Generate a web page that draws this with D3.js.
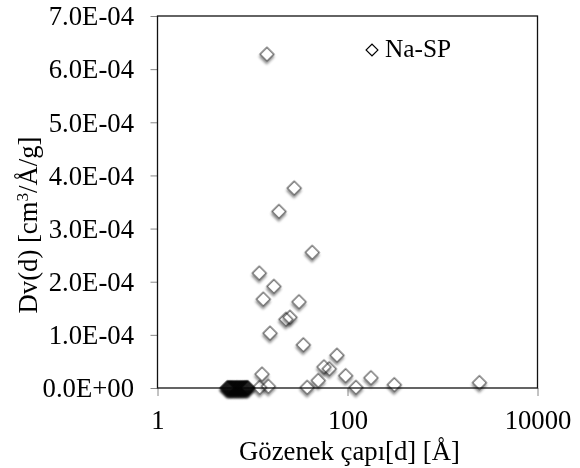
<!DOCTYPE html>
<html>
<head>
<meta charset="utf-8">
<script src="https://cdn.jsdelivr.net/npm/d3@7"></script>
<style>
  html, body { margin: 0; padding: 0; background: #fff; }
  svg { display: block; background: #fff; }
</style>
</head>
<body>
<script>
// ---- data ----
const seriesName = "Na-SP";
const poreDiameter = [
  5.4, 5.48, 5.57, 5.66, 5.74, 5.83, 5.92, 6.02, 6.1, 6.2,
  6.31, 6.4, 6.52, 6.61, 6.73, 6.84, 6.95, 7.05, 7.18, 7.3,
  7.41, 7.53, 7.66, 7.78, 7.9, 8.04, 8.17, 8.3, 8.44, 8.58,
  8.72, 8.86, 8.98,
  11.8, 11.9, 12.6, 13.0, 14.2, 14.7, 15.3, 16.8, 19.0, 22.5,
  24.8, 27.5, 30.9, 34.3, 37.7, 42.6, 49.3, 56.6, 64.3, 77.5,
  95.7, 122.8, 176.7, 311, 2450
];
const dv = [
  0.0e-6, 0.1e-6, 0.0e-6, 0.1e-6, 0.0e-6, 0.1e-6, 0.0e-6, 0.1e-6, 0.0e-6, 0.1e-6,
  0.0e-6, 0.1e-6, 0.0e-6, 0.1e-6, 0.0e-6, 0.1e-6, 0.0e-6, 0.1e-6, 0.0e-6, 0.1e-6,
  0.0e-6, 0.1e-6, 0.0e-6, 0.1e-6, 0.0e-6, 0.1e-6, 0.2e-6, 0.1e-6, 0.2e-6, 0.3e-6,
  0.2e-6, 0.1e-6, 0.2e-6,
  2.16e-4, 0.1e-5, 2.6e-5, 1.67e-4, 6.28e-4, 0.3e-5, 1.03e-4, 1.91e-4, 3.32e-4, 1.29e-4,
  1.33e-4, 3.76e-4, 1.62e-4, 0.81e-4, 0.1e-5, 2.55e-4, 1.4e-5, 3.95e-5, 3.6e-5, 6.15e-5,
  2.3e-5, 0.1e-5, 1.9e-5, 0.6e-5, 1.0e-5
];
const xTickValues = [1, 100, 10000];
const xTickLabels = ["1", "100", "10000"];
const yTickValues = [0, 1e-4, 2e-4, 3e-4, 4e-4, 5e-4, 6e-4, 7e-4];
const yTickLabels = ["0.0E+00", "1.0E-04", "2.0E-04", "3.0E-04", "4.0E-04", "5.0E-04", "6.0E-04", "7.0E-04"];
const xTitle = "Gözenek çapı[d] [Å]";

// ---- layout ----
const W = 580, H = 468;
const plot = { left: 157.5, right: 537.5, top: 16, bottom: 388 };
const FS = 26.7;
const FONT = "Liberation Serif";

const svg = d3.select("body").append("svg").attr("width", W).attr("height", H);

const defs = svg.append("defs");
const f = defs.append("filter").attr("id", "shadow")
  .attr("x", "-50%").attr("y", "-50%").attr("width", "200%").attr("height", "200%");
f.append("feDropShadow").attr("dx", 1.5).attr("dy", 2).attr("stdDeviation", 1.3)
  .attr("flood-color", "#000").attr("flood-opacity", 0.45);

const x = d3.scaleLog().domain([1, 10000]).range([plot.left, plot.right]);
const y = d3.scaleLinear().domain([0, 7e-4]).range([plot.bottom, plot.top]);

// y ticks
const yAxis = d3.axisLeft(y).tickValues(yTickValues).tickSize(7).tickPadding(0)
  .tickFormat((d, i) => yTickLabels[i]);
const gy = svg.append("g").attr("transform", `translate(${plot.left},0)`).call(yAxis);
gy.select(".domain").remove();
gy.selectAll(".tick line").attr("stroke", "#888").attr("stroke-width", 1);
gy.selectAll(".tick text").attr("x", 134 - plot.left).attr("dy", "0.33em").attr("fill", "#000")
  .style("font-family", FONT).style("font-size", FS + "px");

// x ticks
const xAxis = d3.axisBottom(x).tickValues(xTickValues).tickSize(8).tickPadding(0)
  .tickFormat((d, i) => xTickLabels[i]);
const gx = svg.append("g").attr("transform", `translate(0,${plot.bottom})`).call(xAxis);
gx.select(".domain").remove();
gx.selectAll(".tick line").attr("stroke", "#888").attr("stroke-width", 1);
gx.selectAll(".tick text").attr("y", 429 - plot.bottom).attr("dy", 0).attr("fill", "#000")
  .style("font-family", FONT).style("font-size", FS + "px");

// frame
svg.append("rect")
  .attr("x", plot.left).attr("y", plot.top)
  .attr("width", plot.right - plot.left).attr("height", plot.bottom - plot.top)
  .attr("fill", "none").attr("stroke", "#111").attr("stroke-width", 1.3);

// points
const sym = d3.symbol().type(d3.symbolSquare).size(96);
const pts = poreDiameter.map((d, i) => ({ x: d, y: dv[i] }));
svg.append("g").selectAll("path").data(pts).join("path")
  .attr("d", sym)
  .attr("transform", d => `translate(${x(d.x)},${y(d.y)}) rotate(45)`)
  .attr("fill", "#fff").attr("stroke", "#5a5a5a").attr("stroke-width", 1.3)
  .attr("filter", "url(#shadow)")
  .style("mix-blend-mode", "multiply");

// axis titles
svg.append("text").attr("x", (plot.left + plot.right) / 2 + 2).attr("y", 460)
  .attr("text-anchor", "middle")
  .style("font-family", FONT).style("font-size", FS + "px").text(xTitle);

const yt = svg.append("text").attr("transform", "translate(37,225) rotate(-90)")
  .attr("text-anchor", "middle")
  .style("font-family", FONT).style("font-size", FS + "px");
yt.append("tspan").text("Dv(d) [cm");
yt.append("tspan").attr("dy", -9).style("font-size", (FS * 0.65) + "px").text("3");
yt.append("tspan").attr("dy", 9).text("/Å/g]");

// legend
const lg = svg.append("g");
lg.append("path").attr("d", d3.symbol().type(d3.symbolSquare).size(70))
  .attr("transform", "translate(372,50) rotate(45)")
  .attr("fill", "#fff").attr("stroke", "#000").attr("stroke-width", 1.2);
lg.append("text").attr("x", 385).attr("y", 57)
  .style("font-family", FONT).style("font-size", (FS * 0.95) + "px").text(seriesName);
</script>
</body>
</html>
